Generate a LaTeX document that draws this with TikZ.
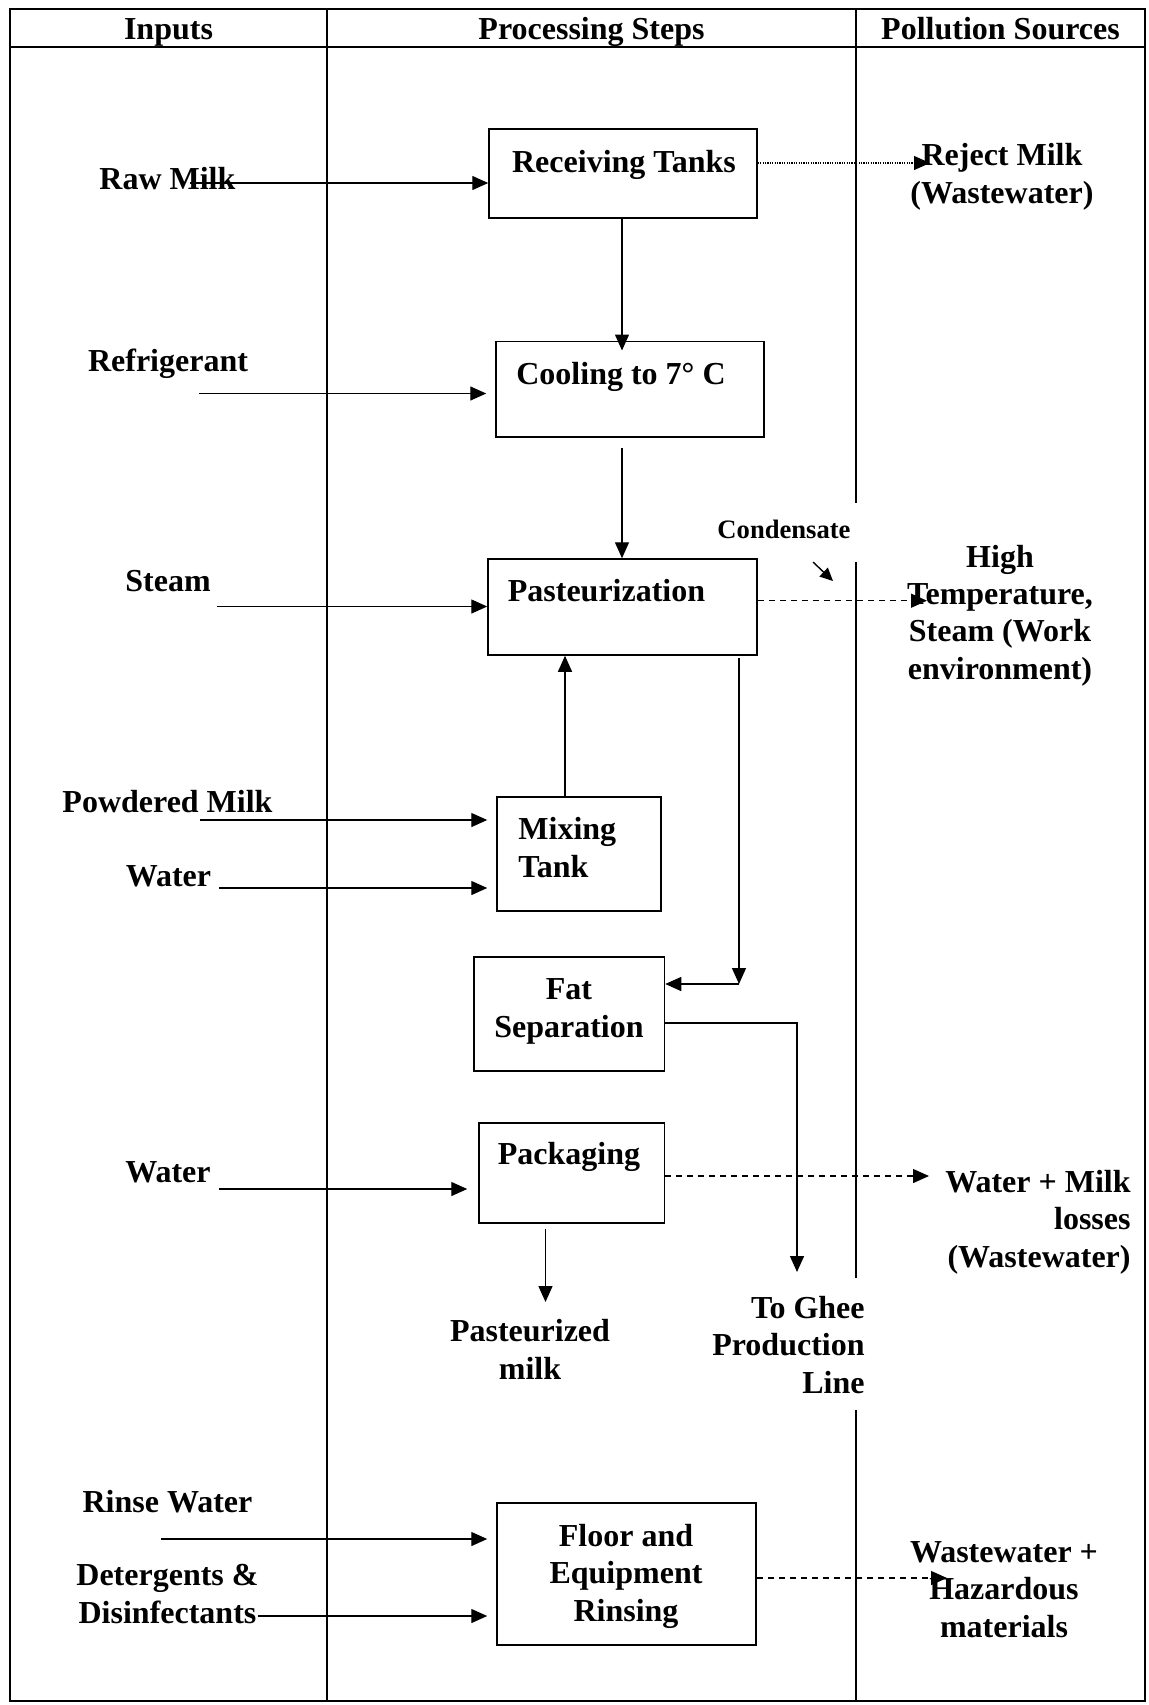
\documentclass[tikz,border=0pt]{standalone}
\usepackage{fontspec}
\setmainfont{Liberation Serif}
\usetikzlibrary{arrows.meta}
\begin{document}
\begin{tikzpicture}[x=0.5pt,y=-0.5pt,
  txt/.style={font=\fontsize{16}{18.6}\selectfont\bfseries, inner sep=0pt, anchor=base},
  smalltxt/.style={font=\fontsize{13.3}{15}\selectfont\bfseries, inner sep=0pt, anchor=base},
  box/.style={draw, line width=0.75pt, inner sep=0pt},
  tip/.style={-{Triangle[length=8pt,width=7pt]}},
  flow/.style={line width=0.7pt, tip},
  waste/.style={flow, dash pattern=on 3pt off 2.5pt},
  reject/.style={line width=0.6pt, dash pattern=on 0.6pt off 0.6pt, tip},
]
\useasboundingbox (0,0) rectangle (1149,1705);

% table frame, header row and column rules
\draw[line width=1pt] (10,9) rectangle (1145,1701);
\draw[line width=0.75pt] (10,47) -- (1145,47);
\draw[line width=0.75pt] (327,9) -- (327,1701);
\draw[line width=0.75pt] (856,9) -- (856,503) (856,562) -- (856,1278) (856,1410) -- (856,1701);

\node[txt] (hIn)   at (168.5,39)  {Inputs};
\node[txt] (hProc) at (591.5,39)  {Processing Steps};
\node[txt] (hPol)  at (1000.5,39) {Pollution Sources};

% process boxes
\node[box, minimum width=134pt, minimum height=44.5pt] (recv)  at (623,173.5) {};
\node[box, minimum width=134pt, minimum height=47.75pt] (cool) at (630,389) {};
\node[box, minimum width=134.5pt, minimum height=48pt] (past)  at (622.5,607) {};
\node[box, minimum width=82pt, minimum height=57pt] (mix)      at (579,854) {};
\node[box, minimum width=95.25pt, minimum height=57pt] (fat)   at (569.25,1014) {};
\node[box, minimum width=92.75pt, minimum height=50pt] (pack)  at (571.75,1173) {};
\node[box, minimum width=129.5pt, minimum height=71pt] (rinse) at (626.5,1574) {};

% box texts (multi-line nodes are placed by the baseline of their last line)
\node[txt] (recvT) at (624,172) {Receiving Tanks};
\node[txt] (coolT) at (621,384) {Cooling to 7° C};
\node[txt] (pastT) at (606.5,601) {Pasteurization};
\node[txt, align=left, anchor=base west] (mixT) at (518,877) {Mixing\\Tank};
\node[txt, align=center] (fatT) at (569,1037) {Fat\\Separation};
\node[txt] (packT) at (569,1164) {Packaging};
\node[txt, align=center] (rinseT) at (626,1621) {Floor and\\Equipment\\Rinsing};

% inputs
\node[txt, anchor=base west] (rawT) at (99,189) {Raw Milk};
\node[txt] (refT)    at (168,371)   {Refrigerant};
\node[txt] (steamT)  at (168,591)   {Steam};
\node[txt] (powT)    at (167.5,812) {Powdered Milk};
\node[txt] (waterAT) at (168.5,886) {Water};
\node[txt] (waterBT) at (168,1182)  {Water};
\node[txt] (rinseWT) at (167.5,1512) {Rinse Water};
\node[txt, align=center] (detT) at (167.5,1623) {Detergents \&\\Disinfectants};

\coordinate (rawS)   at (190,183);
\coordinate (refS)   at (199,393.5);
\coordinate (steamS) at (217,606.5);
\coordinate (powS)   at (200,820);
\coordinate (waterAS) at (219,888);
\coordinate (waterBS) at (219,1189);
\coordinate (rinseS) at (161,1539);
\coordinate (detS)   at (258,1616);

\draw[flow] (rawS) -- (rawS -| recv.west);
\draw[flow, shorten >=4.5pt] (refS) -- (refS -| cool.west);
\draw[flow] (steamS) -- (steamS -| past.west);
\draw[flow, shorten >=4.5pt] (powS) -- (powS -| mix.west);
\draw[flow, shorten >=4.5pt] (waterAS) -- (waterAS -| mix.west);
\draw[flow, shorten >=5.5pt] (waterBS) -- (waterBS -| pack.west);
\draw[flow, shorten >=4.5pt] (rinseS) -- (rinseS -| rinse.west);
\draw[flow, shorten >=4.5pt] (detS) -- (detS -| rinse.west);

% main product flow
\coordinate (coolIn)  at (622,218);
\coordinate (coolOut) at (622,448);
\coordinate (mixUp)   at (565,797);
\coordinate (pastDn)  at (739,658);
\coordinate (fatCorner) at (739,984);
\coordinate (gheeTurn)  at (797,1023);
\coordinate (gheeEnd)   at (797,1272);
\coordinate (milkEnd)   at (545.5,1302);

\draw[flow, shorten >=-5pt] (coolIn) -- (coolIn |- cool.north);
\draw[flow] (coolOut) -- (coolOut |- past.north);
\draw[flow] (mixUp) -- (mixUp |- past.south);
\draw[flow] (pastDn) -- (fatCorner);
\draw[flow] (fatCorner) -- (fatCorner -| fat.east);
\draw[flow] (gheeTurn -| fat.east) -- (gheeTurn) -- (gheeEnd);
\draw[flow, shorten <=2.5pt] (milkEnd |- pack.south) -- (milkEnd);

\node[txt, align=center] (milkT) at (530,1379) {Pasteurized\\milk};
\node[txt, align=right, anchor=base east] (gheeT) at (865,1393) {To Ghee\\Production\\Line};

% pollution sources
\coordinate (rejE)  at (930,163);
\coordinate (pastE) at (927,600.7);
\coordinate (packE) at (929,1176);
\coordinate (rinseE) at (947,1578);
\coordinate (condS) at (813,562);
\coordinate (condE) at (833,581);

\draw[reject] (rejE -| recv.east) -- (rejE);
\draw[waste] (pastE -| past.east) -- (pastE);
\draw[waste] (packE -| pack.east) -- (packE);
\draw[waste] (rinseE -| rinse.east) -- (rinseE);
\draw[line width=0.7pt, -{Triangle[length=6.5pt,width=6pt]}] (condS) -- (condE);

\node[smalltxt] (condT) at (784,538) {Condensate};
\node[txt, align=center] (rejT) at (1002,203) {Reject Milk\\(Wastewater)};
\node[txt, align=center] (highT) at (1000,679) {High\\Temperature,\\Steam (Work\\environment)};
\node[txt, align=right, anchor=base east] (lossT) at (1131,1267) {Water + Milk\\losses\\(Wastewater)};
\node[txt, align=center] (hazT) at (1004,1637) {Wastewater +\\Hazardous\\materials};
\end{tikzpicture}
\end{document}
